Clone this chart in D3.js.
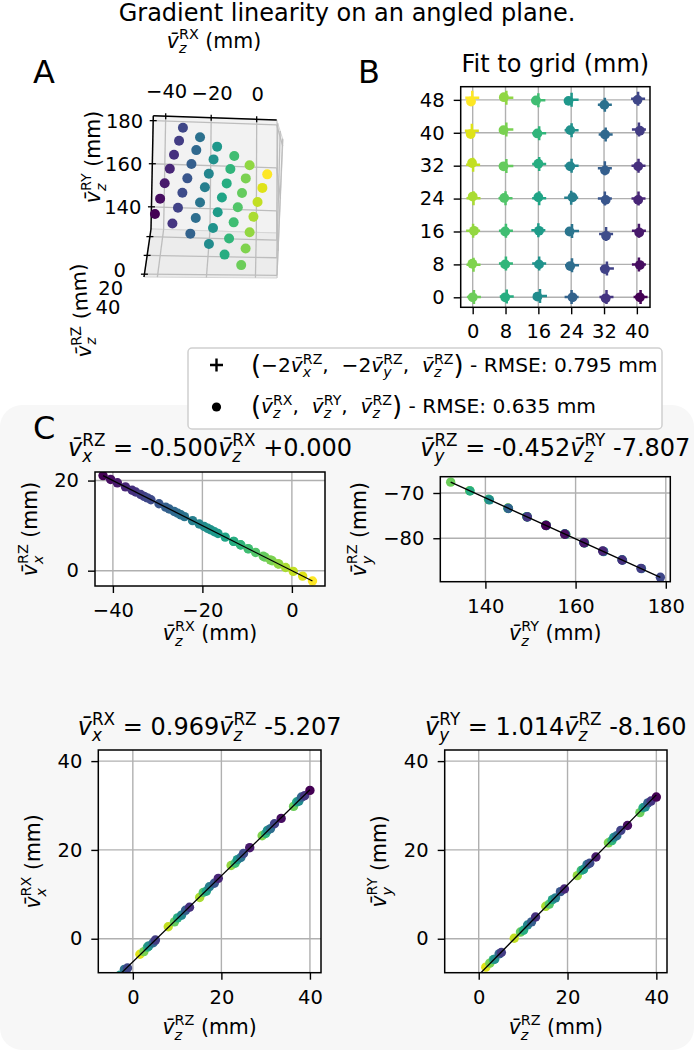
<!DOCTYPE html>
<html><head><meta charset="utf-8">
<script src="https://cdn.jsdelivr.net/npm/d3@7"></script>
<style>
body{margin:0;background:#fff}
svg{display:block}
text{font-family:"DejaVu Sans",sans-serif;fill:#000;white-space:pre}
</style>
</head><body>
<svg id="fig" width="694" height="1050"></svg>
<script>
// ---------------- data ----------------
const gridX = [0, 8, 16, 24, 32, 40];
const gridY = [0, 8, 16, 24, 32, 40, 48];
// point k = i*7 + j  (i -> gridX, j -> gridY)
const vzRX = [-6.0,-4.4,-2.9,-1.4,0.3,2.4,4.6, -13.0,-11.4,-9.7,-8.1,-6.4,-4.8,-3.1, -19.6,-18.2,-16.5,-14.9,-13.0,-11.5,-9.8,
  -27.4,-25.5,-24.0,-22.2,-20.7,-18.8,-17.3, -34.9,-33.0,-31.5,-29.7,-28.2,-26.3,-24.8, -42.2,-40.5,-39.0,-37.2,-35.7,-33.8,-32.3];
const vzRY = [132.3,136.5,140.8,145.0,149.2,153.5,157.7, 136.6,140.7,145.1,149.2,153.4,157.8,161.9, 140.9,145.0,149.3,153.4,157.6,162.0,166.1,
  145.1,149.2,153.5,157.8,161.9,166.2,170.3, 149.3,153.5,157.6,161.8,166.2,170.4,174.6, 153.4,157.6,161.9,166.0,170.3,174.5,178.8];
const vzRZ = [36.3,29.2,22.2,15.1,8.0,1.6,-5.2, 37.0,30.0,23.1,15.9,9.4,2.5,-4.2, 37.5,30.4,23.6,16.6,10.1,3.3,-3.5,
  38.1,31.1,24.4,17.3,11.0,3.6,-2.9, 38.8,32.0,25.0,18.4,11.9,4.6,-1.9, 40.0,33.5,26.4,19.3,12.8,5.1,-1.2];
const vxRZ = [3.00,2.20,1.45,0.70,-0.15,-1.20,-2.30, 6.50,5.70,4.85,4.05,3.20,2.40,1.55, 9.80,9.10,8.25,7.45,6.50,5.75,4.90,
  13.70,12.75,12.00,11.10,10.35,9.40,8.65, 17.45,16.50,15.75,14.85,14.10,13.15,12.40, 21.10,20.25,19.50,18.60,17.85,16.90,16.15];
const vyRZ = [-67.60,-69.48,-71.47,-73.33,-75.26,-77.17,-79.11, -69.57,-71.38,-73.40,-75.22,-77.12,-79.15,-80.97,
  -71.51,-73.36,-75.30,-77.12,-79.02,-81.05,-82.86, -73.41,-75.22,-77.21,-79.15,-80.96,-82.95,-84.76,
  -75.31,-77.19,-79.06,-80.92,-82.91,-84.85,-86.71, -77.16,-79.11,-81.01,-82.82,-84.80,-86.66,-88.63];
const vxRX = [29.8,23.2,16.5,9.3,2.7,-3.5,-10.1, 30.8,23.7,17.0,10.4,3.8,-2.9,-9.4, 31.0,24.4,17.8,10.7,4.7,-1.9,-8.7,
  31.9,24.8,18.3,11.7,5.3,-1.6,-8.2, 32.2,25.9,19.2,12.5,6.4,-0.9,-6.9, 33.4,27.1,20.5,13.6,7.1,-0.3,-6.6];
const vyRY = [28.4,21.6,14.2,7.3,0.1,-6.4,-13.3, 29.5,22.1,15.4,7.8,1.5,-5.5,-12.5, 29.7,22.8,15.6,8.8,1.9,-4.7,-11.6,
  30.6,23.2,16.7,9.2,3.1,-4.6,-11.2, 31.0,24.4,17.0,10.6,3.8,-3.4,-10.0, 31.9,25.5,18.4,11.2,4.9,-3.1,-9.5];
// panel B: fitted positions on the grid
const fitDotX = [0,-0.08,0.32,0,-0.16,-0.49,-0.41, 7.92,7.92,7.92,7.68,7.51,7.51,7.6, 15.76,16.16,16.16,16,16,15.76,15.43,
  24.32,23.76,23.6,24.32,23.76,23.76,23.35, 32.4,32.24,32.49,32.4,32.24,32.24,32.08, 40.73,40.73,40.57,40.32,40.32,40.73,40.16];
const fitDotY = [0,8.16,16.16,24.49,32.65,39.68,47.6, 0,8,16,24.16,31.84,40.65,48.65, 0.16,8,16.16,24.32,32.49,39.84,47.84,
  0,7.6,16,24.32,31.84,40.65,47.76, -0.24,6.86,14.95,23.68,30.86,39.6,46.78, 0,7.84,15.76,23.68,31.84,40.49,48];
const fitPlusX = [0.3,0.2,0.1,0.2,0.1,-0.2,-0.1, 8.3,8.1,8.1,8.0,8.2,8.2,8.2, 16.4,16.2,16.0,16.2,16.2,16.2,16.0,
  24.1,24.2,24.2,24.0,24.1,24.1,24.1, 32.6,32.7,32.5,32.2,32.2,32.4,32.2, 40.9,40.5,40.5,40.4,40.4,40.5,40.3];
const fitPlusY = [0.1,7.9,16.2,24.1,32.2,40.5,48.5, 0.2,8.2,16.2,24.1,31.9,40.8,48.5, 0.3,8.2,16.3,24.1,32.4,39.9,47.9,
  0.1,7.8,16.1,24.2,32.0,40.6,48.0, 0.1,7.0,15.4,24.0,31.4,39.6,46.8, 0.1,8.0,16.2,24.0,32.0,40.8,48.3];
// linear fits shown in panel C (slope, intercept)
const fitXRZ = [-0.500, 0.000];
const fitYRZ = [-0.452, -7.807];
const fitXRX = [0.969, -5.207];
const fitYRY = [1.014, -8.160];
const rmsePlus = "0.795", rmseDot = "0.635";
// tick values
const ticksA_x = [-40, -20, 0], ticksA_y = [140, 160, 180], ticksA_z = [0, 20, 40];
const ticksTL_x = [-40, -20, 0], ticksTL_y = [0, 20];
const ticksTR_x = [140, 160, 180], ticksTR_y = [-80, -70];
const ticksB = [0, 20, 40];

// ---------------- style ----------------
const F_TICK = 19.5, F_TITLE = 24, F_BTITLE = 24, F_SUP = 24, F_LAB = 20.5, F_LEG = 20.2, F_PANEL = 32;
const GRID = '#b0b0b0';
const svg = d3.select('#fig');
const color = d3.scaleSequential(d3.interpolateViridis).domain(d3.extent(vzRX));
const idx = d3.range(vzRX.length);

// math-text helper
function mtext(parent, x, y, parts, F, anchor, rot) {
  const t = parent.append('text').attr('x', x).attr('y', y).attr('font-size', F).attr('text-anchor', anchor || 'start');
  if (rot) t.attr('transform', `rotate(${rot},${x},${y})`);
  let shift = 0;
  const add = (txt, o = {}) => {
    const ts = t.append('tspan').text(txt);
    const target = o.shift || 0;
    ts.attr('dy', target - shift); shift = target;
    if (o.size) ts.attr('font-size', o.size);
    if (o.italic) ts.attr('font-style', 'italic');
    if (o.dx) ts.attr('dx', o.dx);
    return ts;
  };
  parts.forEach(p => {
    if (typeof p === 'string') add(p);
    else if (p.big) add(p.big, {size: F * 1.28, shift: F * 0.08});
    else if (p.v) {
      add('v\u0304', {italic: true});
      const s = add(p.sub, {italic: true, size: F * 0.7, shift: F * 0.27});
      const w = s.node().getComputedTextLength();
      add(p.sup, {size: F * 0.7, shift: -F * 0.42, dx: -w});
    }
  });
  return t;
}
const V = (sub, sup) => ({v: 1, sub, sup});

// background of panel C
svg.append('rect').attr('x', 0).attr('y', 405).attr('width', 694).attr('height', 645).attr('rx', 22).attr('fill', '#f7f7f7');

// suptitle + panel letters
svg.append('text').attr('x', 347).attr('y', 21).attr('text-anchor', 'middle').attr('font-size', F_SUP).text('Gradient linearity on an angled plane.');
[['A', 33, 83], ['B', 358, 83], ['C', 33, 439]].forEach(([s, x, y]) =>
  svg.append('text').attr('x', x).attr('y', y).attr('font-size', F_PANEL).text(s));

// ---------------- panel A (3D) ----------------
(function () {
  const dom = {x: [-45.45, 8.8], y: [129.7, 182.3], z: [-8.1, 43]};
  const uS = d3.scaleLinear().domain(dom.x).range([0, 1]);
  const vS = d3.scaleLinear().domain(dom.y).range([0, 1]);
  const wS = d3.scaleLinear().domain(dom.z).range([0, 1]);
  // screen position of the 8 box corners [u][v][w]
  const K = {c000: [151, 229], c100: [276.7, 233], c010: [153.3, 115.7], c110: [276.7, 120],
             c001: [144, 277], c101: [277, 278], c011: [150, 142], c111: [283, 140]};
  const L = (a, b, t) => [a[0] + (b[0] - a[0]) * t, a[1] + (b[1] - a[1]) * t];
  function proj(x, y, z) {
    const u = uS(x), v = vS(y), w = wS(z);
    const q0 = L(L(K.c000, K.c100, u), L(K.c010, K.c110, u), v);
    const q1 = L(L(K.c001, K.c101, u), L(K.c011, K.c111, u), v);
    return L(q0, q1, w);
  }
  const [x0, x1] = dom.x, [y0, y1] = dom.y, [z0, z1] = dom.z;
  const g = svg.append('g');
  const poly = (pts, fill) => g.append('path').attr('d', 'M' + pts.map(p => proj(...p).join(',')).join('L') + 'Z')
    .attr('fill', fill).attr('stroke', '#d6d6d6').attr('stroke-width', 1);
  poly([[x0, y0, z0], [x1, y0, z0], [x1, y1, z0], [x0, y1, z0]], '#f2f2f2');
  poly([[x0, y0, z0], [x1, y0, z0], [x1, y0, z1], [x0, y0, z1]], '#ececec');
  poly([[x1, y0, z0], [x1, y1, z0], [x1, y1, z1], [x1, y0, z1]], '#f5f5f5');
  const seg = (a, b, stroke, w) => {
    const p = proj(...a), q = proj(...b);
    g.append('line').attr('x1', p[0]).attr('y1', p[1]).attr('x2', q[0]).attr('y2', q[1]).attr('stroke', stroke).attr('stroke-width', w);
  };
  const G3 = '#bdbdbd';
  ticksA_x.forEach(t => { seg([t, y0, z0], [t, y1, z0], G3, 1.3); seg([t, y0, z0], [t, y0, z1], G3, 1.3); });
  ticksA_y.forEach(t => { seg([x0, t, z0], [x1, t, z0], G3, 1.3); seg([x1, t, z0], [x1, t, z1], G3, 1.3); });
  ticksA_z.forEach(t => { seg([x0, y0, t], [x1, y0, t], G3, 1.3); seg([x1, y0, t], [x1, y1, t], G3, 1.3); });
  // axis lines
  seg([x0, y1, z0], [x1, y1, z0], '#000', 1.5);
  seg([x0, y0, z0], [x0, y1, z0], '#000', 1.5);
  seg([x0, y0, z0], [x0, y0, z1], '#000', 1.5);
  const tickLine = (p, dx, dy) => g.append('line').attr('x1', p[0] - dx).attr('y1', p[1] - dy).attr('x2', p[0] + dx).attr('y2', p[1] + dy)
    .attr('stroke', '#000').attr('stroke-width', 1.3);
  ticksA_x.forEach(t => {
    const p = proj(t, y1, z0); tickLine(p, 0, 3);
    g.append('text').attr('x', p[0] + 1).attr('y', p[1] - 18).attr('text-anchor', 'middle').attr('font-size', F_TICK).text(d3.format('')(t));
  });
  ticksA_y.forEach(t => {
    const p = proj(x0, t, z0); tickLine(p, 3.5, 0);
    g.append('text').attr('x', p[0] - 10).attr('y', p[1] + 7).attr('text-anchor', 'end').attr('font-size', F_TICK).text(t);
  });
  ticksA_z.forEach(t => {
    const p = proj(x0, y0, t); tickLine(p, 3.5, 0);
    g.append('text').attr('x', p[0] - 24).attr('y', p[1] + 40).attr('text-anchor', 'end').attr('font-size', F_TICK).text(t);
  });
  mtext(g, 214, 47.5, [V('z', 'RX'), ' (mm)'], F_LAB, 'middle');
  mtext(g, 100, 157, [V('z', 'RY'), ' (mm)'], F_LAB, 'middle', -90);
  mtext(g, 88, 310, [V('z', 'RZ'), ' (mm)'], F_LAB, 'middle', -94);
  // points, far (large z) first
  const order = idx.slice().sort((a, b) => vzRZ[b] - vzRZ[a]);
  g.selectAll('circle.pt').data(order).join('circle').attr('class', 'pt')
    .attr('cx', k => proj(vzRX[k], vzRY[k], vzRZ[k])[0]).attr('cy', k => proj(vzRX[k], vzRY[k], vzRZ[k])[1])
    .attr('r', 5).attr('fill', k => color(vzRX[k]));
})();

// ---------------- axis helper ----------------
function styleAxis(sel) {
  sel.select('.domain').remove();
  sel.selectAll('.tick line').attr('stroke', '#000').attr('stroke-width', 1.4);
  sel.selectAll('.tick text').attr('font-size', F_TICK).attr('font-family', '"DejaVu Sans",sans-serif').attr('fill', '#000');
  sel.attr('font-size', null).attr('font-family', null);
}

// ---------------- panel B ----------------
(function () {
  const box = {l: 460.7, r: 650, t: 86.7, b: 307.3};
  const x = d3.scaleLinear().domain([-2.92, 43.2]).range([box.l, box.r]);
  const y = d3.scaleLinear().domain([-2.43, 51.2]).range([box.b, box.t]);
  const g = svg.append('g');
  g.append('rect').attr('x', box.l).attr('y', box.t).attr('width', box.r - box.l).attr('height', box.b - box.t).attr('fill', '#fff');
  g.selectAll('line.gx').data(gridX).join('line').attr('x1', d => x(d)).attr('x2', d => x(d)).attr('y1', box.t).attr('y2', box.b).attr('stroke', GRID).attr('stroke-width', 1.4);
  g.selectAll('line.gy').data(gridY).join('line').attr('class', 'gy').attr('y1', d => y(d)).attr('y2', d => y(d)).attr('x1', box.l).attr('x2', box.r).attr('stroke', GRID).attr('stroke-width', 1.4);
  g.selectAll('circle.d').data(idx).join('circle').attr('class', 'd').attr('cx', k => x(fitDotX[k])).attr('cy', k => y(fitDotY[k])).attr('r', 4.9).attr('fill', k => color(vzRX[k]));
  g.selectAll('path.p').data(idx).join('path').attr('class', 'p')
    .attr('d', k => { const cx = x(fitPlusX[k]), cy = y(fitPlusY[k]); return `M${cx - 7},${cy}H${cx + 7}M${cx},${cy - 7}V${cy + 7}`; })
    .attr('stroke', k => color(vzRX[k])).attr('stroke-width', 2.5).attr('fill', 'none');
  g.append('rect').attr('x', box.l).attr('y', box.t).attr('width', box.r - box.l).attr('height', box.b - box.t).attr('fill', 'none').attr('stroke', '#000').attr('stroke-width', 1.5);
  g.append('g').attr('transform', `translate(0,${box.b})`).call(d3.axisBottom(x).tickValues(gridX).tickSize(7).tickPadding(10)).call(styleAxis);
  g.append('g').attr('transform', `translate(${box.l},0)`).call(d3.axisLeft(y).tickValues(gridY).tickSize(7).tickPadding(9)).call(styleAxis);
  g.append('text').attr('x', (box.l + box.r) / 2).attr('y', 72).attr('text-anchor', 'middle').attr('font-size', F_BTITLE).text('Fit to grid (mm)');
})();

// ---------------- legend ----------------
(function () {
  const g = svg.append('g');
  g.append('rect').attr('x', 188).attr('y', 348).attr('width', 474).attr('height', 81).attr('rx', 4)
    .attr('fill', '#fff').attr('stroke', '#d0d0d0').attr('stroke-width', 1.5);
  g.append('path').attr('d', 'M210,365H223M216.5,358.5V371.5').attr('stroke', '#000').attr('stroke-width', 2.4);
  g.append('circle').attr('cx', 216.5).attr('cy', 407).attr('r', 4.6).attr('fill', '#000');
  mtext(g, 251, 372, [{big: '('}, '\u22122', V('x', 'RZ'), ',  \u22122', V('y', 'RZ'), ',  ', V('z', 'RZ'), {big: ')'}, ' - RMSE: ' + rmsePlus + ' mm'], F_LEG, 'start');
  mtext(g, 251, 413, [{big: '('}, V('z', 'RX'), ',  ', V('z', 'RY'), ',  ', V('z', 'RZ'), {big: ')'}, ' - RMSE: ' + rmseDot + ' mm'], F_LEG, 'start');
})();

// ---------------- panel C ----------------
function scatterPanel(c) {
  const {l, r, t, b} = c.box;
  const x = d3.scaleLinear().domain(c.xd).range([l, r]);
  const y = d3.scaleLinear().domain(c.yd).range([b, t]);
  const g = svg.append('g');
  g.append('rect').attr('x', l).attr('y', t).attr('width', r - l).attr('height', b - t).attr('fill', '#fff');
  g.append('clipPath').attr('id', 'clip' + c.id).append('rect').attr('x', l).attr('y', t).attr('width', r - l).attr('height', b - t);
  g.selectAll('line.gx').data(c.xt).join('line').attr('class', 'gx').attr('x1', d => x(d)).attr('x2', d => x(d)).attr('y1', t).attr('y2', b).attr('stroke', GRID).attr('stroke-width', 1.4);
  g.selectAll('line.gy').data(c.yt).join('line').attr('class', 'gy').attr('y1', d => y(d)).attr('y2', d => y(d)).attr('x1', l).attr('x2', r).attr('stroke', GRID).attr('stroke-width', 1.4);
  const inner = g.append('g').attr('clip-path', `url(#clip${c.id})`);
  inner.selectAll('circle').data(idx).join('circle').attr('cx', k => x(c.xs[k])).attr('cy', k => y(c.ys[k])).attr('r', 4.7).attr('fill', k => color(vzRX[k]));
  const [a0, a1] = d3.extent(c.xs);
  inner.append('line').attr('x1', x(a0)).attr('y1', y(c.fit[0] * a0 + c.fit[1])).attr('x2', x(a1)).attr('y2', y(c.fit[0] * a1 + c.fit[1]))
    .attr('stroke', '#000').attr('stroke-width', 1.3);
  g.append('rect').attr('x', l).attr('y', t).attr('width', r - l).attr('height', b - t).attr('fill', 'none').attr('stroke', '#000').attr('stroke-width', 1.5);
  g.append('g').attr('transform', `translate(0,${b})`).call(d3.axisBottom(x).tickValues(c.xt).tickSize(7).tickPadding(10)).call(styleAxis);
  g.append('g').attr('transform', `translate(${l},0)`).call(d3.axisLeft(y).tickValues(c.yt).tickSize(7).tickPadding(9)).call(styleAxis);
  mtext(g, (l + r) / 2, c.titleY, c.title, F_TITLE, 'middle');
  mtext(g, (l + r) / 2, c.xlabY, c.xlab, F_LAB, 'middle');
  mtext(g, c.ylabX, (t + b) / 2, c.ylab, F_LAB, 'middle', -90);
}
scatterPanel({id: 'tl', box: {l: 95, r: 325, t: 472, b: 586}, xd: [-44, 7.4], yd: [-3.4, 21.9], xt: ticksTL_x, yt: ticksTL_y,
  xs: vzRX, ys: vxRZ, fit: fitXRZ, titleY: 456, xlabY: 640, ylabX: 37,
  title: [V('x', 'RZ'), ' = ' + fitXRZ[0].toFixed(3), V('z', 'RX'), ' +' + fitXRZ[1].toFixed(3)],
  xlab: [V('z', 'RX'), ' (mm)'], ylab: [V('x', 'RZ'), ' (mm)']});
scatterPanel({id: 'tr', box: {l: 440.3, r: 670.3, t: 476.7, b: 581.7}, xd: [130, 181], yd: [-89.6, -66.4], xt: ticksTR_x, yt: ticksTR_y,
  xs: vzRY, ys: vyRZ, fit: fitYRZ, titleY: 456, xlabY: 640, ylabX: 366,
  title: [V('y', 'RZ'), ' = ' + fitYRZ[0].toFixed(3), V('z', 'RY'), ' ' + fitYRZ[1].toFixed(3)],
  xlab: [V('z', 'RY'), ' (mm)'], ylab: [V('y', 'RZ'), ' (mm)']});
scatterPanel({id: 'bl', box: {l: 98.3, r: 321, t: 750, b: 972.7}, xd: [-7.8, 42.5], yd: [-7.65, 42.5], xt: ticksB, yt: ticksB,
  xs: vzRZ, ys: vxRX, fit: fitXRX, titleY: 735, xlabY: 1034, ylabX: 40,
  title: [V('x', 'RX'), ' = ' + fitXRX[0].toFixed(3), V('z', 'RZ'), ' ' + fitXRX[1].toFixed(3)],
  xlab: [V('z', 'RZ'), ' (mm)'], ylab: [V('x', 'RX'), ' (mm)']});
scatterPanel({id: 'br', box: {l: 444.7, r: 667, t: 750, b: 972.7}, xd: [-7.66, 42.4], yd: [-7.65, 42.5], xt: ticksB, yt: ticksB,
  xs: vzRZ, ys: vyRY, fit: fitYRY, titleY: 735, xlabY: 1034, ylabX: 386,
  title: [V('y', 'RY'), ' = ' + fitYRY[0].toFixed(3), V('z', 'RZ'), ' ' + fitYRY[1].toFixed(3)],
  xlab: [V('z', 'RZ'), ' (mm)'], ylab: [V('y', 'RY'), ' (mm)']});
</script>
</body></html>
